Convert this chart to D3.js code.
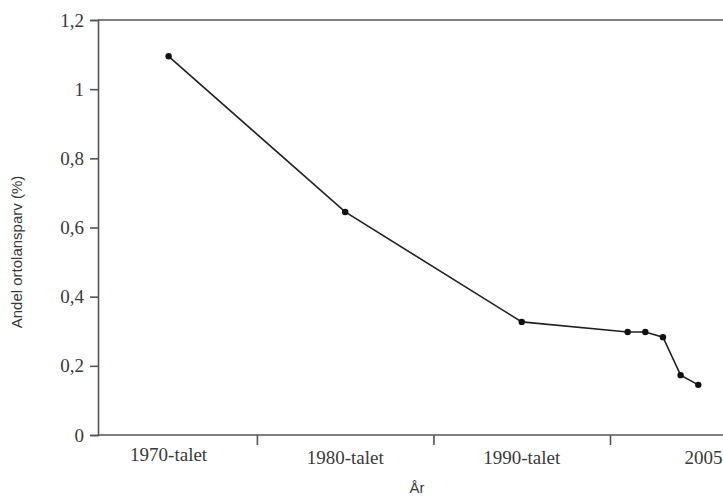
<!DOCTYPE html>
<html>
<head>
<meta charset="utf-8">
<script src="https://cdn.jsdelivr.net/npm/d3@7"></script>
<style>
  html, body { margin: 0; padding: 0; background: #fff; }
  svg { display: block; }
</style>
</head>
<body>
<svg id="chart" width="723" height="496"></svg>
<script>
// Data (x in years; decades plotted at their midpoints)
const years = [1975, 1985, 1995, 2001, 2002, 2003, 2004, 2005];
const shares = [1.095, 0.645, 0.327, 0.298, 0.298, 0.283, 0.173, 0.145];
const yTicks = [0, 0.2, 0.4, 0.6, 0.8, 1, 1.2];
const xTickYears = [1980, 1990, 2000];
const xLabels = ["1970-talet", "1980-talet", "1990-talet", "2005"];
const xLabelYears = [1975, 1985, 1995, 2005.3];

const svg = d3.select("#chart");
const mLeft = 98, mRight = 723, mTop = 20, mBottom = 435;

const x = d3.scaleLinear().domain([1971, 2006.4]).range([mLeft, mRight]);
const y = d3.scaleLinear().domain([0, 1.2]).range([mBottom, mTop]);

const axisColor = "#555";
const textColor = "#3a3a3a";
const fmt = d => d === 0 ? "0" : (d === 1 ? "1" : d3.format(".1f")(d).replace(".", ","));

// Y axis
const yAxis = svg.append("g").attr("transform", `translate(${mLeft},0)`)
  .call(d3.axisLeft(y).tickValues(yTicks).tickSize(8).tickPadding(6).tickFormat(fmt));
yAxis.select(".domain").attr("stroke", axisColor).attr("stroke-width", 1.6);
yAxis.selectAll(".tick line").attr("stroke", axisColor).attr("stroke-width", 1.6);
yAxis.selectAll(".tick text")
  .attr("font-family", "'Liberation Serif', 'Times New Roman', serif")
  .attr("font-size", 19).attr("fill", textColor);

// X axis
const xAxis = svg.append("g").attr("transform", `translate(0,${mBottom})`)
  .call(d3.axisBottom(x).tickValues(xTickYears).tickSize(10).tickFormat(""));
xAxis.select(".domain").attr("stroke", axisColor).attr("stroke-width", 1.6).attr("d", `M${mLeft},0H${mRight}`);
xAxis.selectAll(".tick line").attr("stroke", axisColor).attr("stroke-width", 1.6);

// Top border
svg.append("line").attr("x1", mLeft).attr("x2", mRight).attr("y1", mTop).attr("y2", mTop)
  .attr("stroke", axisColor).attr("stroke-width", 1.6);

// X labels
svg.append("g").selectAll("text").data(xLabels).join("text")
  .attr("x", (d, i) => x(xLabelYears[i]))
  .attr("y", (d, i) => i === 0 ? mBottom + 26 : mBottom + 29)
  .attr("text-anchor", "middle")
  .attr("font-family", "'Liberation Serif', 'Times New Roman', serif")
  .attr("font-size", 19).attr("fill", textColor)
  .text(d => d);

// Axis titles
svg.append("text").attr("x", 417).attr("y", 493).attr("text-anchor", "middle")
  .attr("font-family", "'Liberation Sans', Arial, sans-serif").attr("font-size", 15)
  .attr("fill", textColor).text("År");

svg.append("text").attr("transform", "translate(22,252) rotate(-90)").attr("text-anchor", "middle")
  .attr("font-family", "'Liberation Sans', Arial, sans-serif").attr("font-size", 15)
  .attr("fill", textColor).text("Andel ortolansparv (%)");

// Line and points
const pts = years.map((yr, i) => [yr, shares[i]]);
svg.append("path").datum(pts)
  .attr("fill", "none").attr("stroke", "#222").attr("stroke-width", 1.6)
  .attr("d", d3.line().x(d => x(d[0])).y(d => y(d[1])));
svg.append("g").selectAll("circle").data(pts).join("circle")
  .attr("cx", d => x(d[0])).attr("cy", d => y(d[1])).attr("r", 3.2).attr("fill", "#111");
</script>
</body>
</html>
